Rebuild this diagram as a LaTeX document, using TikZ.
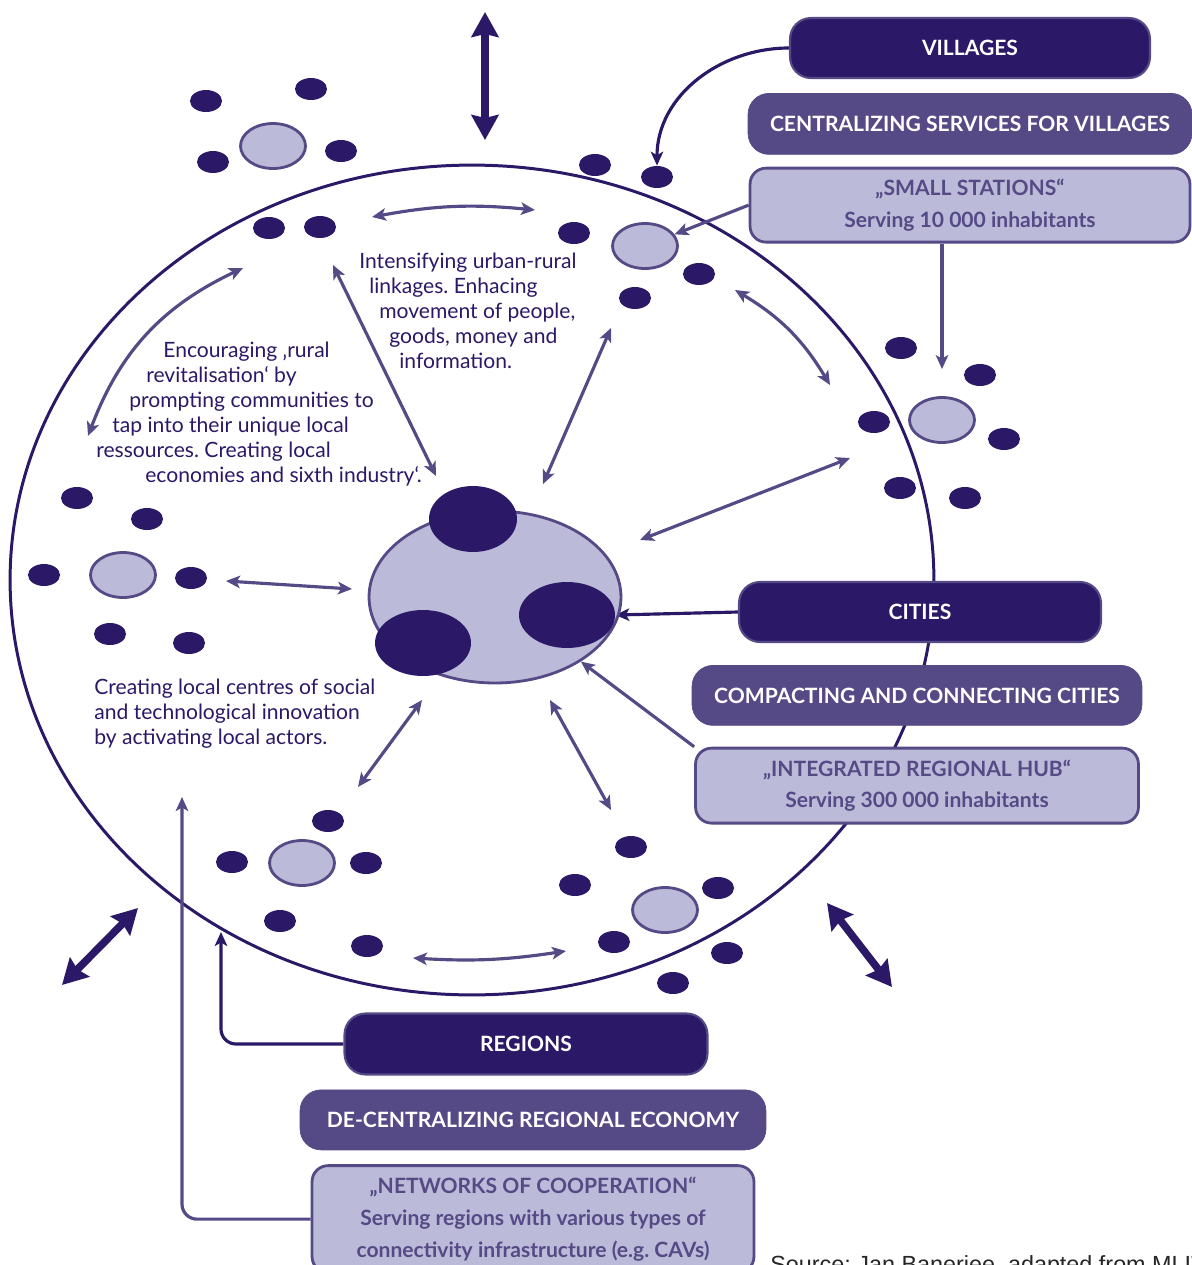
\documentclass[tikz,border=0pt]{standalone}
\usepackage{fontspec}
\setmainfont{Lato}
\newfontfamily\srcfont{Liberation Sans}
\usetikzlibrary{positioning,arrows.meta,shapes.geometric,backgrounds}
\definecolor{lqnavy}{RGB}{43,25,103}
\definecolor{lqmid}{RGB}{86,74,134}
\definecolor{lqlight}{RGB}{187,187,217}
\frenchspacing
\tikzset{
  topbox/.style={draw=lqmid, line width=1.2pt, rounded corners=0.42cm, fill=lqnavy, text=white, align=center, inner sep=0pt, font=\bfseries\fontsize{12}{14}\selectfont},
  midbox/.style={draw=lqmid, rounded corners=0.42cm, fill=lqmid, text=white, align=center, inner sep=0pt, font=\bfseries\fontsize{12}{14}\selectfont},
  subbox/.style={draw=lqmid, line width=1.6pt, rounded corners=0.32cm, fill=lqlight, text=lqmid, align=center, inner sep=0pt, font=\bfseries\fontsize{12}{18}\selectfont},
  vdot/.style={ellipse, fill=lqnavy, minimum width=0.64cm, minimum height=0.44cm, inner sep=0pt},
  hub/.style={ellipse, draw=lqmid, line width=1.6pt, fill=lqlight, minimum width=1.3cm, minimum height=0.9cm, inner sep=0pt},
  blob/.style={ellipse, fill=lqnavy, minimum height=1.32cm, inner sep=0pt},
  rim/.style={ellipse, draw=lqnavy, line width=1.7pt, inner sep=0pt},
  note/.style={anchor=north west, align=left, inner sep=0pt, text=lqnavy, font=\fontsize{12}{14.2}\selectfont},
  link/.style={{Stealth[length=2.8mm,width=2.5mm,inset=0.7mm]}-{Stealth[length=2.8mm,width=2.5mm,inset=0.7mm]}, line width=1.8pt, lqmid},
  arrow/.style={-{Stealth[length=2.8mm,width=2.5mm,inset=0.7mm]}, line width=1.8pt, lqmid},
  darrow/.style={-{Stealth[length=2.8mm,width=2.5mm,inset=0.7mm]}, line width=1.8pt, lqnavy},
  bigarrow/.style={{Stealth[length=5mm,width=5.4mm,inset=0.6mm]}-{Stealth[length=5mm,width=5.4mm,inset=0.6mm]}, line width=4.3pt, lqnavy}
}

\begin{document}
\begin{tikzpicture}[x=0.02cm, y=-0.02cm, node distance=0.28cm]
  \useasboundingbox (0,0) rectangle (1192,1265);

  % level boxes
  \node[topbox, minimum width=7.2cm, minimum height=1.2cm] (villages) at (970,48) {VILLAGES};
  \node[midbox, minimum width=8.88cm, minimum height=1.22cm, below=0.28cm of villages] (centralizing) {CENTRALIZING SERVICES FOR VILLAGES};
  \node[subbox, minimum width=8.8cm, minimum height=1.48cm, below=0.24cm of centralizing] (stations) {„SMALL STATIONS“\\Serving 10 000 inhabitants};

  \node[topbox, minimum width=7.24cm, minimum height=1.2cm] (cities) at (920,612) {CITIES};
  \node[midbox, minimum width=9.0cm, minimum height=1.2cm, below=0.44cm of cities, xshift=-0.06cm] (compacting) {COMPACTING AND CONNECTING CITIES};
  \node[subbox, minimum width=8.86cm, minimum height=1.5cm, below=0.42cm of compacting] (hubbox) {„INTEGRATED REGIONAL HUB“\\Serving 300 000 inhabitants};

  \node[topbox, minimum width=7.26cm, minimum height=1.22cm] (regions) at (526,1044) {REGIONS};
  \node[midbox, minimum width=9.32cm, minimum height=1.2cm, below=0.28cm of regions, xshift=0.14cm] (decentral) {DE-CENTRALIZING REGIONAL ECONOMY};
  \node[subbox, minimum width=8.84cm, minimum height=2.14cm, below=0.28cm of decentral] (networks) {„NETWORKS OF COOPERATION“\\Serving regions with various types of\\connectivity infrastructure (e.g. CAVs)};

  % settlements
  \node[hub] (hubA) at (273,146) {};
  \node[hub] (hubB) at (645,246) {};
  \node[hub] (hubC) at (942,420) {};
  \node[hub] (hubD) at (123,575) {};
  \node[hub] (hubE) at (302,863) {};
  \node[hub] (hubF) at (665,910) {};
  \foreach \n/\x/\y in {a1/206/101, a2/311/89, a3/213/162, a4/341/151,
      b1/595/165, b2/657/177, b3/574/233, b4/699/274, b5/635/298,
      t1/269/228, t2/320/227,
      c1/901/348, c2/980/375, c3/874/422, c4/1004/439, c5/900/488, c6/965/498,
      d1/77/498, d2/147/519, d3/44/575, d4/191/578, d5/110/634, d6/189/643,
      e1/328/821, e2/232/862, e3/366/863, e4/280/921, e5/367/946,
      f1/631/847, f2/575/885, f3/718/888, f4/614/942, f5/727/953, f6/673/983}
    \node[vdot] (\n) at (\x,\y) {};

  % central city
  \node[hub, minimum width=5.04cm, minimum height=3.44cm] (city) at (495,597) {};
  \node[blob, minimum width=1.76cm] (blobT) at (473,519) {};
  \node[blob, minimum width=1.92cm] (blobR) at (567,615) {};
  \node[blob, minimum width=1.92cm] (blobL) at (423,643) {};

  \begin{scope}[on background layer]
    \node[rim, minimum width=18.48cm, minimum height=16.6cm] (region) at (472,580) {};
    \coordinate (regtip) at (221,932);
    \coordinate (nettip) at (182,797);
    \draw[darrow] (villages.west) .. controls (720,48) and (657,96) .. (b2.north);
    \draw[arrow] (stations.west) -- (hubB);
    \draw[arrow, shorten >=0.54cm] (hubC |- stations.south) -- (hubC.north);
    \draw[darrow] (cities.west) -- (blobR.east);
    \draw[arrow] (hubbox.north west) -- (city);
    \draw[darrow, rounded corners=0.3cm] (regions.west) -| (regtip);
    \draw[arrow, rounded corners=0.3cm] (networks.west) -| (nettip);
  \end{scope}

  % exchanges between places
  \foreach \ax/\ay/\bx/\by/\bend [count=\i] in {372/217/535/210/8, 88/436/243/268/22,
      333/265/436/476/0, 611/328/543/484/0, 735/290/830/385/14, 850/458/640/540/0,
      226/581/352/589/0, 422/700/358/787/0, 550/700/611/810/0, 413/958/566/951/-6}
  {
    \coordinate (la\i) at (\ax,\ay);
    \coordinate (lb\i) at (\bx,\by);
    \draw[link] (la\i) to[bend left=\bend] (lb\i);
  }
  \foreach \ax/\ay/\bx/\by [count=\i] in {485/12/485/140, 62/985/138/908, 827/903/892/987}
  {
    \coordinate (ga\i) at (\ax,\ay);
    \coordinate (gb\i) at (\bx,\by);
    \draw[bigarrow] (ga\i) -- (gb\i);
  }

  % notes
  \node[note] (linkage) at (359,253) {Intensifying urban-rural\\
    \hspace*{0.2cm}linkages. Enhacing\\
    \hspace*{0.4cm}movement of people,\\
    \hspace*{0.6cm}goods, money and\\
    \hspace*{0.8cm}information.};
  \node[note] (revital) at (96,342) {\hspace*{1.34cm}Encouraging ‚rural\\
    \hspace*{1.0cm}revitalisation‘ by\\
    \hspace*{0.66cm}prompting communities to\\
    \hspace*{0.32cm}tap into their unique local\\
    ressources. Creating local\\
    \hspace*{0.98cm}economies and sixth industry‘.};
  \node[note] (innov) at (94,679) {Creating local centres of social\\
    and technological innovation\\
    by activating local actors.};

  \node[anchor=north west, inner sep=0pt, text=black!85, font=\srcfont\fontsize{13.3}{16}\selectfont] (source) at (770,1255) {Source: Jan Banerjee, adapted from MLIT};
\end{tikzpicture}
\end{document}
